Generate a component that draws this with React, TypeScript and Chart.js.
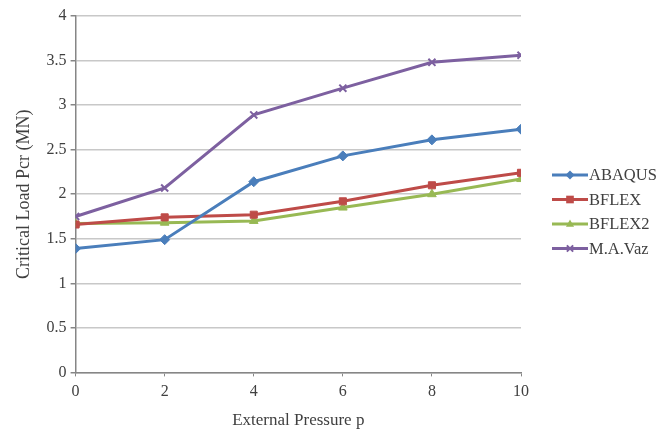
import React, { useEffect, useRef } from "react";
import { Chart, registerables } from "chart.js";

Chart.register(...registerables);

const pressures = [0, 2, 4, 6, 8, 10];
const abaqus = [1.39, 1.49, 2.14, 2.43, 2.61, 2.73];
const bflex = [1.66, 1.74, 1.77, 1.92, 2.1, 2.24];
const bflex2 = [1.67, 1.68, 1.7, 1.85, 2.0, 2.17];
const maVaz = [1.75, 2.07, 2.89, 3.19, 3.48, 3.56];
const seriesNames = ["ABAQUS", "BFLEX", "BFLEX2", "M.A.Vaz"];
const colors = ["#4A7EBB", "#BE4B48", "#98B954", "#7D60A0"];
const markers = ["rectRot", "rect", "triangle", "crossRot"];

const FONT = "'Liberation Serif', 'Times New Roman', serif";

function drawMarker(ctx: CanvasRenderingContext2D, style: string, x: number, y: number, r: number, color: string) {
  ctx.fillStyle = color;
  ctx.strokeStyle = color;
  ctx.beginPath();
  if (style === "rectRot") {
    ctx.moveTo(x, y - r);
    ctx.lineTo(x + r, y);
    ctx.lineTo(x, y + r);
    ctx.lineTo(x - r, y);
    ctx.closePath();
    ctx.fill();
  } else if (style === "rect") {
    const s = r * 0.85;
    ctx.rect(x - s, y - s, 2 * s, 2 * s);
    ctx.fill();
  } else if (style === "triangle") {
    ctx.moveTo(x, y - r);
    ctx.lineTo(x + r * 0.9, y + r * 0.6);
    ctx.lineTo(x - r * 0.9, y + r * 0.6);
    ctx.closePath();
    ctx.fill();
  } else {
    const s = r * 0.7;
    ctx.lineWidth = 2;
    ctx.moveTo(x - s, y - s);
    ctx.lineTo(x + s, y + s);
    ctx.moveTo(x + s, y - s);
    ctx.lineTo(x - s, y + s);
    ctx.stroke();
  }
}

const legendPlugin = {
  id: "sideLegend",
  afterDraw(chart: any) {
    const ctx = chart.ctx as CanvasRenderingContext2D;
    const x0 = 552;
    const y0 = 175;
    const step = 24.5;
    ctx.save();
    chart.data.datasets.forEach((ds: any, i: number) => {
      const y = y0 + i * step;
      ctx.strokeStyle = ds.borderColor;
      ctx.lineWidth = 3;
      ctx.beginPath();
      ctx.moveTo(x0, y);
      ctx.lineTo(x0 + 36, y);
      ctx.stroke();
      drawMarker(ctx, ds.pointStyle, x0 + 18, y, 4.5, ds.borderColor);
      ctx.fillStyle = "#404040";
      ctx.font = "16.5px " + FONT;
      ctx.textBaseline = "middle";
      ctx.textAlign = "left";
      ctx.fillText(ds.label, x0 + 37, y + 1);
    });
    ctx.restore();
  },
};

export default function App() {
  const ref = useRef<HTMLCanvasElement | null>(null);
  useEffect(() => {
    if (!ref.current) return;
    const all = [abaqus, bflex, bflex2, maVaz];
    const chart = new Chart(ref.current, {
      type: "line",
      data: {
        datasets: all.map((vals, i) => ({
          label: seriesNames[i],
          data: pressures.map((p, j) => ({ x: p, y: vals[j] })),
          borderColor: colors[i],
          backgroundColor: colors[i],
          pointBackgroundColor: colors[i],
          pointBorderColor: colors[i],
          pointStyle: markers[i] as any,
          pointRadius: 5,
          pointBorderWidth: markers[i] === "crossRot" ? 2 : 1,
          borderWidth: 3,
          tension: 0,
        })),
      },
      options: {
        animation: false,
        responsive: false,
        layout: { padding: { left: 8, right: 146, top: 16, bottom: 0 } },
        plugins: {
          legend: { display: false },
          tooltip: { enabled: false },
        },
        scales: {
          x: {
            type: "linear",
            min: 0,
            max: 10,
            ticks: { stepSize: 2, color: "#404040", font: { family: FONT, size: 16 }, padding: 6 },
            grid: { drawOnChartArea: false, drawTicks: true, tickLength: 4, color: "#868686" },
            border: { color: "#868686", width: 1.5 },
            title: { display: true, text: "External Pressure p", color: "#404040", font: { family: FONT, size: 17 }, padding: { top: 3, bottom: 0 } },
          },
          y: {
            min: 0,
            max: 4,
            ticks: {
              stepSize: 0.5,
              color: "#404040",
              font: { family: FONT, size: 16 },
              padding: 4,
              callback: (v: any) => String(Number(v)),
            },
            grid: { color: "#C8C8C8", lineWidth: 1.5, tickLength: 5, tickColor: "#868686" },
            border: { color: "#868686", width: 1.5 },
            title: { display: true, text: "Critical Load Pcr (MN)", color: "#404040", font: { family: FONT, size: 18 }, padding: { top: 5, bottom: 8 } },
          },
        },
      },
      plugins: [legendPlugin],
    });
    return () => chart.destroy();
  }, []);
  return (
    <div style={{ position: "absolute", left: 0, top: 0, width: 667, height: 431, background: "#fff" }}>
      <canvas ref={ref} width={667} height={431} style={{ width: 667, height: 431 }} />
    </div>
  );
}
